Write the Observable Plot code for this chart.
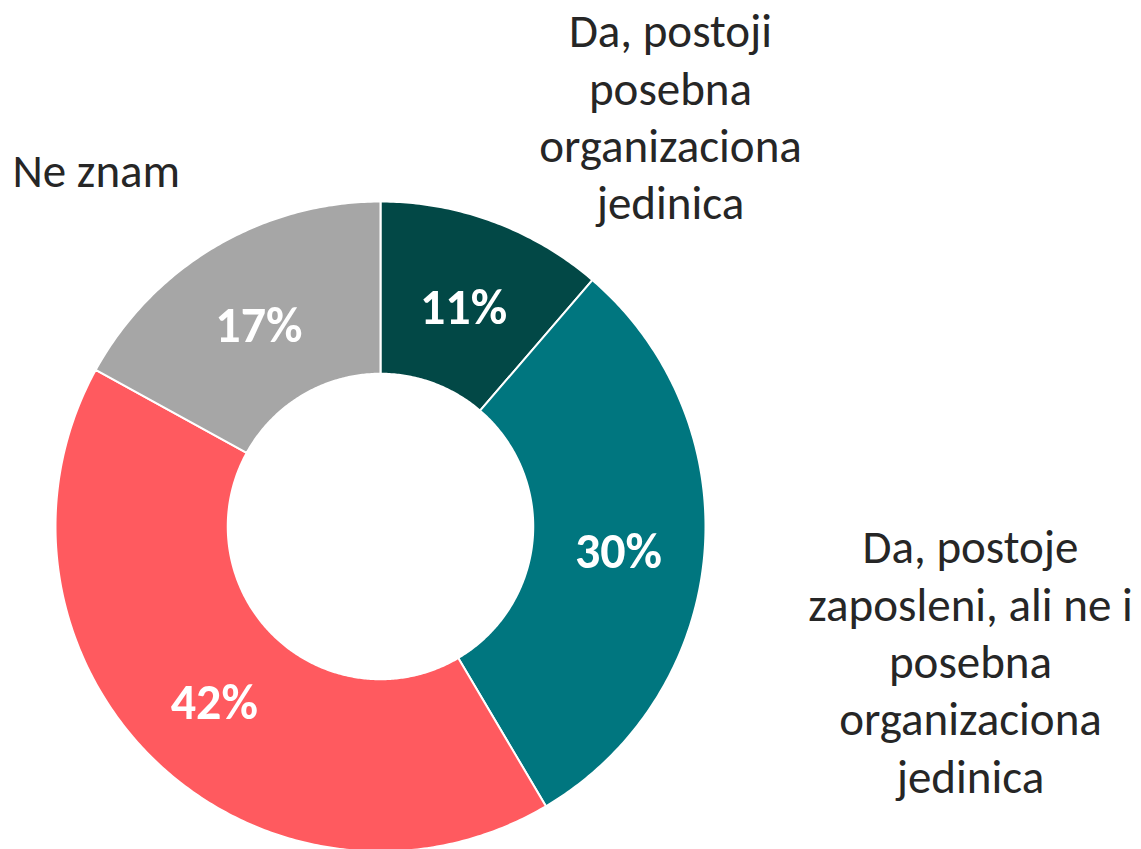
<!DOCTYPE html>
<html>
<head>
<meta charset="utf-8">
<script src="https://cdn.jsdelivr.net/npm/d3@7"></script>
<script src="https://cdn.jsdelivr.net/npm/@observablehq/plot@0.6"></script>
<style>
  html, body { margin: 0; padding: 0; background: #fff; }
  #chart { width: 1141px; height: 849px; }
</style>
</head>
<body>
<div id="chart"></div>
<script>
// ---- data ----
const categories = [
  "Da, postoji posebna organizaciona jedinica",
  "Da, postoje zaposleni, ali ne i posebna organizaciona jedinica",
  "Ne",
  "Ne znam"
];
// slice sizes (labels show rounded percents)
const values = [11.3, 30.2, 41.5, 17.0];
const percentLabels = ["11%", "30%", "42%", "17%"];
const categoryLabels = [
  "Da, postoji\nposebna\norganizaciona\njedinica",
  "Da, postoje\nzaposleni, ali ne i\nposebna\norganizaciona\njedinica",
  "",
  "Ne znam"
];
const colors = ["#024846", "#00767F", "#FF5A5F", "#A6A6A6"];

// ---- geometry (unit circle, outer radius 1) ----
const W = 1141, H = 849;
const cx = 380, cy = 526, R = 325;
const inner = 0.47;
const total = d3.sum(values);

const slices = [];
let acc = 0;
values.forEach((v, i) => {
  const a0 = acc / total * 2 * Math.PI;
  acc += v;
  const a1 = acc / total * 2 * Math.PI;
  slices.push({cat: categories[i], a0, a1, i});
});

const pts = [];
for (const s of slices) {
  const n = Math.max(8, Math.ceil((s.a1 - s.a0) / 0.01));
  const ring = [];
  for (let k = 0; k <= n; k++) {
    const a = s.a0 + (s.a1 - s.a0) * k / n;
    ring.push({cat: s.cat, x: Math.sin(a), y: Math.cos(a)});
  }
  for (let k = n; k >= 0; k--) {
    const a = s.a0 + (s.a1 - s.a0) * k / n;
    ring.push({cat: s.cat, x: inner * Math.sin(a), y: inner * Math.cos(a)});
  }
  ring.push(ring[0]);
  pts.push(...ring);
}

const mid = (1 + inner) / 2;
const pctData = slices.map(s => {
  const a = (s.a0 + s.a1) / 2;
  return {x: mid * Math.sin(a), y: mid * Math.cos(a), label: percentLabels[s.i]};
});

const toX = px => (px - cx) / R;
const toY = py => (cy - py) / R;
const centerLabels = [
  {x: toX(670), y: toY(6), text: categoryLabels[0]},
  {x: toX(970), y: toY(522), text: categoryLabels[1]}
];
const leftLabels = [
  {x: toX(12), y: toY(146), text: categoryLabels[3]}
];

const font = "Carlito, Calibri, Lato, 'Open Sans', sans-serif";

const chart = Plot.plot({
  width: W,
  height: H,
  margin: 0,
  x: {domain: [toX(0), toX(W)], axis: null},
  y: {domain: [toY(H), toY(0)], axis: null},
  color: {domain: categories, range: colors},
  style: {background: "#fff"},
  marks: [
    Plot.line(pts, {x: "x", y: "y", z: "cat", fill: "cat", stroke: "#fff", strokeWidth: 2, curve: "linear"}),
    Plot.text(pctData, {x: "x", y: "y", dy: 5, text: "label", fill: "#fff", fontSize: 50, fontWeight: "bold", fontFamily: font}),
    Plot.text(centerLabels, {x: "x", y: "y", text: "text", textAnchor: "middle", lineAnchor: "top", lineHeight: 1.22, fill: "#262626", fontSize: 47, fontFamily: font}),
    Plot.text(leftLabels, {x: "x", y: "y", text: "text", textAnchor: "start", lineAnchor: "top", lineHeight: 1.22, fill: "#262626", fontSize: 47, fontFamily: font})
  ]
});
document.getElementById("chart").appendChild(chart);
</script>
</body>
</html>
